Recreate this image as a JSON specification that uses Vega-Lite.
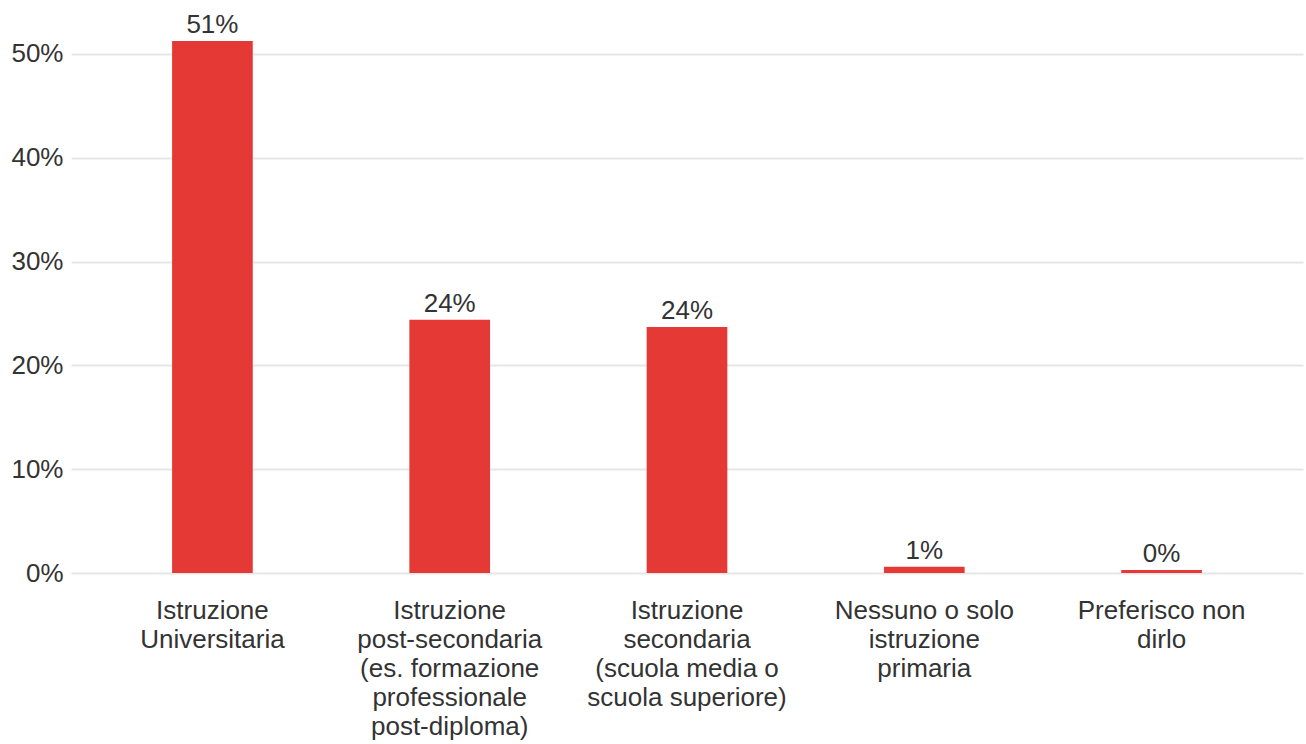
{
  "$schema": "https://vega.github.io/schema/vega-lite/v6.json",
  "autosize": "none",
  "width": 1232,
  "height": 571,
  "padding": {"left": 71, "top": 2, "right": 3, "bottom": 171},
  "background": "white",
  "config": {
    "view": {"stroke": null},
    "font": "Liberation Sans",
    "axis": {"labelFont": "Liberation Sans", "labelColor": "#333333", "labelFontSize": 26}
  },
  "data": {
    "values": [
      {"categoria": "Istruzione Universitaria", "quota": 0.5125},
      {"categoria": "Istruzione post-secondaria", "quota": 0.244},
      {"categoria": "Istruzione secondaria", "quota": 0.237},
      {"categoria": "Nessuno o solo istruzione primaria", "quota": 0.006},
      {"categoria": "Preferisco non dirlo", "quota": 0.003}
    ]
  },
  "encoding": {
    "x": {
      "field": "categoria",
      "type": "nominal",
      "sort": null,
      "scale": {"paddingInner": 0.66, "paddingOuter": 0.426},
      "axis": {
        "title": null,
        "labelAngle": 0,
        "domain": false,
        "ticks": false,
        "labelPadding": 24,
        "labelLineHeight": 29,
        "labelLimit": 400,
        "labelExpr": "({'Istruzione Universitaria': ['Istruzione', 'Universitaria'], 'Istruzione post-secondaria': ['Istruzione', 'post-secondaria', '(es. formazione', 'professionale', 'post-diploma)'], 'Istruzione secondaria': ['Istruzione', 'secondaria', '(scuola media o', 'scuola superiore)'], 'Nessuno o solo istruzione primaria': ['Nessuno o solo', 'istruzione', 'primaria'], 'Preferisco non dirlo': ['Preferisco non', 'dirlo']})[datum.value]"
      }
    },
    "y": {
      "field": "quota",
      "type": "quantitative",
      "scale": {"domain": [0, 0.55], "nice": false},
      "axis": {
        "title": null,
        "values": [0, 0.1, 0.2, 0.3, 0.4, 0.5],
        "format": ".0%",
        "domain": false,
        "ticks": false,
        "labelPadding": 8,
        "gridColor": "#e6e6e6",
        "gridWidth": 2
      }
    }
  },
  "layer": [
    {"mark": {"type": "bar", "color": "#e53935"}},
    {
      "mark": {"type": "text", "baseline": "alphabetic", "dy": -8, "fontSize": 26, "color": "#333333", "font": "Liberation Sans"},
      "encoding": {"text": {"field": "quota", "type": "quantitative", "format": ".0%"}}
    }
  ]
}
